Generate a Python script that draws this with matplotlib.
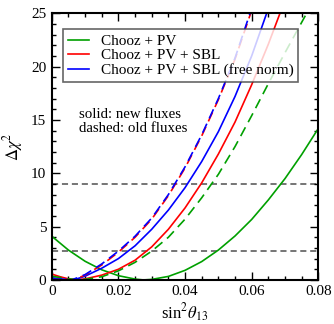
import matplotlib
matplotlib.use("Agg")
import matplotlib.pyplot as plt
from matplotlib.ticker import MultipleLocator

plt.rcParams['font.family'] = ['Liberation Serif', 'DejaVu Serif']
plt.rcParams['mathtext.fontset'] = 'stix'

# ---- data ----
x_green_new = [0.0, 0.005, 0.010, 0.015, 0.020, 0.025, 0.0275, 0.030, 0.035, 0.040,
               0.045, 0.050, 0.055, 0.060, 0.065, 0.070, 0.075, 0.080]
y_green_new = [4.1, 2.8, 1.75, 0.95, 0.4, 0.08, 0.0, 0.05, 0.33, 0.9,
               1.72, 2.8, 4.12, 5.67, 7.5, 9.5, 11.75, 14.2]

x_green_old = [0.0, 0.005, 0.0085, 0.010, 0.015, 0.020, 0.025, 0.030, 0.035, 0.040, 0.045,
               0.050, 0.055, 0.060, 0.065, 0.070, 0.0765]
y_green_old = [0.35, 0.1, 0.02, 0.05, 0.3, 0.85, 1.65, 2.7, 4.0, 5.7, 7.7,
               9.9, 12.5, 15.4, 18.4, 21.3, 25.0]

x_red_new = [0.0, 0.0025, 0.005, 0.0075, 0.010, 0.015, 0.020, 0.025, 0.030, 0.035,
             0.040, 0.045, 0.050, 0.055, 0.060, 0.065, 0.0685]
y_red_new = [0.55, 0.3, 0.1, 0.02, 0.1, 0.45, 1.0, 1.85, 3.1, 4.75,
             6.75, 9.1, 11.8, 14.8, 18.3, 22.1, 25.0]

x_red_old = [0.0, 0.004, 0.0065, 0.010, 0.015, 0.020, 0.025, 0.030, 0.035, 0.040,
             0.045, 0.050, 0.055, 0.0597]
y_red_old = [0.12, 0.03, 0.0, 0.45, 1.4, 2.6, 4.0, 5.7, 7.9, 10.5,
             13.5, 16.9, 20.7, 25.0]

x_blue_new = [0.0, 0.005, 0.0065, 0.010, 0.015, 0.020, 0.025, 0.030, 0.035, 0.040,
              0.045, 0.050, 0.055, 0.060, 0.0645]
y_blue_new = [0.2, 0.02, 0.0, 0.35, 1.1, 2.0, 3.2, 4.75, 6.55, 8.65,
              11.1, 13.9, 17.2, 21.0, 25.0]

x_blue_old = [0.0, 0.004, 0.006, 0.010, 0.015, 0.020, 0.025, 0.030, 0.035, 0.040,
              0.045, 0.050, 0.055, 0.0595]
y_blue_old = [0.12, 0.02, 0.0, 0.5, 1.5, 2.7, 4.1, 5.8, 8.0, 10.6,
              13.6, 17.0, 20.8, 25.0]

hlines = [2.71, 9.0]

labels = ["Chooz + PV", "Chooz + PV + SBL", "Chooz + PV + SBL (free norm)"]
green, red, blue = '#00a000', '#ff0000', '#0000ff'

fig = plt.figure(figsize=(3.34, 3.24), dpi=100)
ax = fig.add_axes([0.155, 0.136, 0.798, 0.823])

lw = 1.2
for yv in hlines:
    ax.axhline(yv, color='#505050', lw=1.1, ls=(0, (4, 2.5)), zorder=1)

ax.plot(x_green_new, y_green_new, color=green, lw=lw, label=labels[0])
ax.plot(x_red_new, y_red_new, color=red, lw=lw, label=labels[1])
ax.plot(x_blue_new, y_blue_new, color=blue, lw=lw, label=labels[2])
ax.plot(x_green_old, y_green_old, color=green, lw=lw, ls=(0, (6, 3.5)))
ax.plot(x_red_old, y_red_old, color=red, lw=lw, ls=(1.5, (6, 3.5)))
ax.plot(x_blue_old, y_blue_old, color=blue, lw=lw, ls=(0, (6, 3.5)))

ax.set_xlim(0, 0.08)
ax.set_ylim(0, 25)
ax.set_xticks([0, 0.02, 0.04, 0.06, 0.08])
ax.set_xticklabels(['0', '0.02', '0.04', '0.06', '0.08'])
ax.xaxis.set_minor_locator(MultipleLocator(0.005))
ax.yaxis.set_major_locator(MultipleLocator(5))
ax.yaxis.set_minor_locator(MultipleLocator(1))
ax.tick_params(which='both', direction='in', top=True, right=True, labelsize=11, width=1.0)
ax.tick_params(which='major', length=6, pad=4)
ax.tick_params(which='minor', length=3)
for s in ax.spines.values():
    s.set_linewidth(1.5)

ax.set_xlabel(r'sin$^2\theta_{13}$', fontsize=12, labelpad=2)
ax.set_ylabel(r'$\Delta\chi^2$', fontsize=12, labelpad=4)

leg = ax.legend(loc='upper left', bbox_to_anchor=(0.042, 0.94), fontsize=11.0,
                frameon=True, fancybox=False, shadow=False, handlelength=1.4,
                handletextpad=0.75, borderpad=0.32, labelspacing=0.05, borderaxespad=0)
leg.get_frame().set_edgecolor('#404040')
leg.get_frame().set_linewidth(1.2)

ax.text(0.102, 0.62, 'solid: new fluxes', transform=ax.transAxes, fontsize=10.7, va='center')
ax.text(0.102, 0.569, 'dashed: old fluxes', transform=ax.transAxes, fontsize=10.7, va='center')

fig.savefig('out.png', dpi=100)
